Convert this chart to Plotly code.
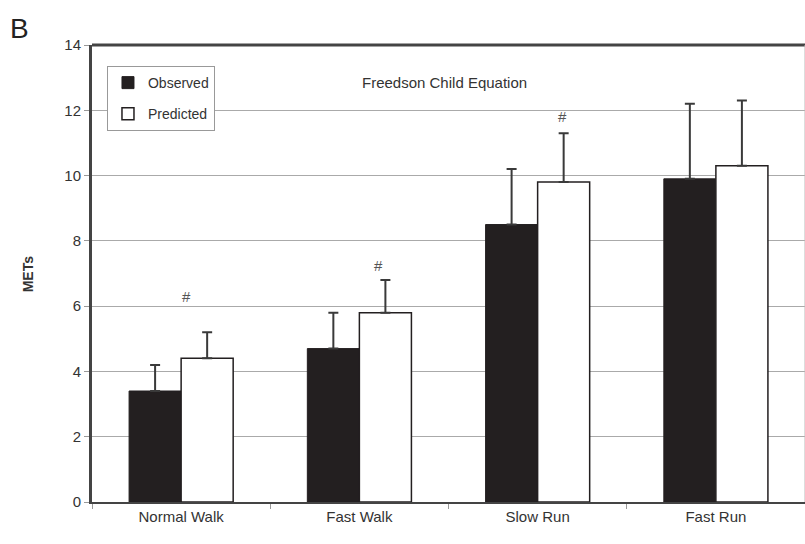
import plotly.graph_objects as go

categories = ["Normal Walk", "Fast Walk", "Slow Run", "Fast Run"]
observed = [3.4, 4.7, 8.5, 9.9]
observed_err = [0.8, 1.1, 1.7, 2.3]
predicted = [4.4, 5.8, 9.8, 10.3]
predicted_err = [0.8, 1.0, 1.5, 2.0]
y_ticks = [0, 2, 4, 6, 8, 10, 12, 14]
# significance markers: (category position, y)
sig_x = [0.03, 1.11, 2.14]
sig_y = [6.3, 7.25, 11.8]

FONT = "Liberation Sans, Arial, sans-serif"
DARK = "#231f20"

fig = go.Figure()
fig.add_trace(go.Bar(
    x=categories, y=observed, name="Observed", legendgroup="a",
    marker=dict(color=DARK, line=dict(color=DARK, width=1)),
    error_y=dict(type="data", array=observed_err, arrayminus=[0]*4, symmetric=False,
                 color="#3a3a3a", thickness=2, width=5),
))
fig.add_trace(go.Bar(
    x=categories, y=predicted, name="Predicted", legendgroup="b",
    marker=dict(color="white", line=dict(color=DARK, width=1.5)),
    error_y=dict(type="data", array=predicted_err, arrayminus=[0]*4, symmetric=False,
                 color="#3a3a3a", thickness=2, width=5),
))

for xv, yv in zip(sig_x, sig_y):
    fig.add_annotation(x=xv, y=yv, xref="x", yref="y", text="#", showarrow=False,
                       font=dict(family=FONT, size=15, color="#555"))

fig.add_annotation(x=0.495, y=0.941, xref="paper", yref="paper", text="Freedson Child Equation",
                   showarrow=False, font=dict(family=FONT, size=15, color="#333"))
fig.add_annotation(x=-0.104, y=0.5, xref="paper", yref="paper", text="<b>METs</b>",
                   textangle=-90, showarrow=False, font=dict(family=FONT, size=14, color="#333"))
fig.add_annotation(x=-0.118, y=1.075, xref="paper", yref="paper", text="B", xanchor="left",
                   showarrow=False, font=dict(family=FONT, size=28, color="#222"))

# top & right frame
fig.add_shape(type="line", xref="paper", yref="paper", x0=0, x1=1, y0=1, y1=1,
              line=dict(color="#444", width=3))
fig.add_shape(type="line", xref="paper", yref="paper", x0=1, x1=1, y0=0, y1=1,
              line=dict(color="#bbb", width=1))

fig.update_layout(
    width=805, height=544,
    margin=dict(l=92, r=0, t=45, b=42),
    plot_bgcolor="white", paper_bgcolor="white",
    barmode="group", bargap=0.416, bargroupgap=0,
    font=dict(family=FONT, size=14, color="#333"),
    legend=dict(x=0.021, y=0.954, xanchor="left", yanchor="top",
                bordercolor="#999", borderwidth=1, bgcolor="white",
                font=dict(family=FONT, size=14, color="#333"),
                itemwidth=30, tracegroupgap=10),
    xaxis=dict(showline=True, linecolor="#444", linewidth=2, ticks="outside",
               tickson="boundaries", ticklen=5, tickcolor="#999",
               tickfont=dict(family=FONT, size=15, color="#333"), showgrid=False),
    yaxis=dict(range=[0, 14], tickvals=y_ticks, showline=True, linecolor="#444", linewidth=3,
               ticks="outside", ticklen=5, tickcolor="#999", gridcolor="#aaa", gridwidth=1,
               tickfont=dict(family=FONT, size=15, color="#333"), zeroline=False),
    showlegend=True,
)

fig.write_html("out.html")
